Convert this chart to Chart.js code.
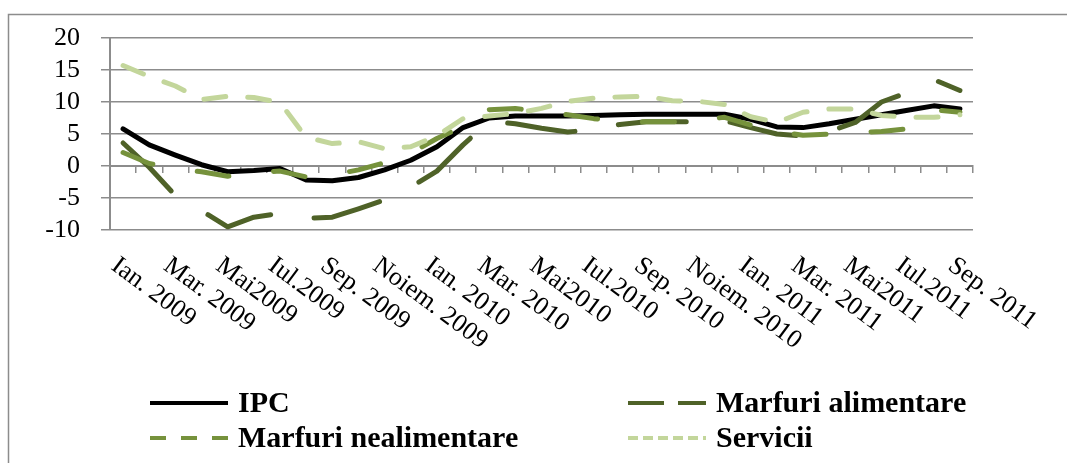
<!DOCTYPE html>
<html>
<head>
<meta charset="utf-8">
<script src="https://cdn.jsdelivr.net/npm/chart.js@4/dist/chart.umd.min.js"></script>
<style>
  html, body { margin: 0; padding: 0; background: #fff; }
</style>
</head>
<body>
<canvas id="myChart" width="1067" height="463"></canvas>
<script>
// categories (only every second one is printed on the axis)
const months = [
  "Ian. 2009", "Feb. 2009", "Mar. 2009", "Apr. 2009", "Mai2009", "Iun. 2009",
  "Iul.2009", "Aug. 2009", "Sep. 2009", "Oct. 2009", "Noiem. 2009", "Dec. 2009",
  "Ian. 2010", "Feb. 2010", "Mar. 2010", "Apr. 2010", "Mai2010", "Iun. 2010",
  "Iul.2010", "Aug. 2010", "Sep. 2010", "Oct. 2010", "Noiem. 2010", "Dec. 2010",
  "Ian. 2011", "Feb. 2011", "Mar. 2011", "Apr. 2011", "Mai2011", "Iun. 2011",
  "Iul.2011", "Aug. 2011", "Sep. 2011"
];
const seriesNames = ["IPC", "Marfuri alimentare", "Marfuri nealimentare", "Servicii"];

const ipc = [5.8, 3.3, 1.7, 0.2, -0.9, -0.7, -0.4, -2.2, -2.3, -1.8, -0.6, 0.9,
  3.0, 6.0, 7.5, 7.8, 7.8, 7.8, 7.9, 8.0, 8.1, 8.1, 8.1, 8.1,
  7.3, 6.1, 6.0, 6.6, 7.3, 8.0, 8.7, 9.4, 8.9];
const alimentare = [3.6, -0.2, -4.6, -7.0, -9.5, -8.0, -7.4, -8.2, -8.0, -6.7, -5.3, -3.3,
  -0.8, 3.3, 7.0, 6.6, 5.9, 5.3, 5.7, 6.5, 6.9, 6.9, 6.9, 7.1,
  6.0, 5.0, 4.7, 5.4, 6.8, 10.0, 11.5, 13.5, 11.8];
const nealimentare = [2.1, 0.4, -0.4, -0.9, -1.6, -1.0, -0.8, -1.7, -1.4, -0.6, 0.5, 2.0,
  4.3, 6.2, 8.8, 9.0, 8.5, 8.0, 7.4, 7.0, 6.9, 6.9, 7.2, 7.6,
  6.4, 5.4, 4.8, 5.0, 5.2, 5.4, 5.8, 8.8, 8.4];
const servicii = [15.7, 14.0, 12.5, 10.4, 10.9, 10.7, 9.9, 4.5, 3.5, 3.8, 2.7, 3.0,
  4.7, 7.4, 7.8, 8.2, 9.0, 10.1, 10.6, 10.8, 10.9, 10.2, 10.1, 9.6,
  7.7, 6.8, 8.4, 8.9, 8.9, 7.9, 7.6, 7.6, 8.0];

const yMin = -10, yMax = 20, yStep = 5;

const colors = ["#000000", "#4F6228", "#76923C", "#C3D69B"];
const dashes = [[], [68, 44], [32, 45], [22, 22]];
const legendDashes = [[], [36, 14], [16, 15], [10, 5]];
const gridColor = "#8c8c8c";
const serif = '"Liberation Serif", "Times New Roman", serif';

// background + outer frame
const framePlugin = {
  id: "frame",
  beforeDraw(chart) {
    const c = chart.ctx;
    c.save();
    c.fillStyle = "#fff";
    c.fillRect(0, 0, chart.width, chart.height);
    c.strokeStyle = "#8c8c8c";
    c.lineWidth = 1.5;
    c.beginPath();
    c.moveTo(8.5, chart.height);
    c.lineTo(8.5, 14.5);
    c.lineTo(chart.width, 14.5);
    c.stroke();
    c.restore();
  }
};

// slanted category labels, reading downwards to the right like the original
const xLabelPlugin = {
  id: "xlabels",
  afterDraw(chart) {
    const c = chart.ctx;
    const xs = chart.scales.x;
    c.save();
    c.font = "26px " + serif;
    c.fillStyle = "#000";
    c.textAlign = "left";
    c.textBaseline = "middle";
    for (let i = 0; i < months.length; i += 2) {
      const x = xs.getPixelForValue(i);
      c.save();
      c.translate(x - 9, 263);
      c.rotate(36.5 * Math.PI / 180);
      c.fillText(months[i], 0, 0);
      c.restore();
    }
    c.restore();
  }
};

// two column legend under the plot
const legendSpots = [[150, 403], [628, 403], [150, 438], [628, 438]];
const legendPlugin = {
  id: "twoColLegend",
  afterDraw(chart) {
    const c = chart.ctx;
    c.save();
    c.font = "bold 30px " + serif;
    c.textBaseline = "middle";
    c.textAlign = "left";
    chart.data.datasets.forEach((ds, i) => {
      const [x, y] = legendSpots[i];
      c.strokeStyle = ds.borderColor;
      c.lineWidth = 4;
      c.lineCap = "butt";
      c.setLineDash(legendDashes[i]);
      c.beginPath();
      c.moveTo(x, y);
      c.lineTo(x + 78, y);
      c.stroke();
      c.setLineDash([]);
      c.fillStyle = "#000";
      c.fillText(ds.label, x + 88, y + 1);
    });
    c.restore();
  }
};

const series = [ipc, alimentare, nealimentare, servicii];
const ctx = document.getElementById("myChart").getContext("2d");
const myChart = new Chart(ctx, {
  type: "line",
  data: {
    labels: months,
    datasets: series.map((vals, i) => ({
      label: seriesNames[i],
      data: vals,
      borderColor: colors[i],
      backgroundColor: colors[i],
      borderWidth: 5,
      borderDash: dashes[i],
      borderCapStyle: "round",
      borderJoinStyle: "round",
      pointRadius: 0,
      tension: 0,
      fill: false,
      order: 4 - i
    }))
  },
  options: {
    responsive: false,
    devicePixelRatio: 1,
    animation: false,
    events: [],
    layout: { padding: { left: 0, right: 94, top: 38, bottom: 233 } },
    plugins: {
      legend: { display: false },
      tooltip: { enabled: false }
    },
    scales: {
      x: {
        offset: true,
        position: { y: 0 },
        afterFit(s) { s.height = 0; },
        ticks: { display: false },
        grid: {
          display: true,
          offset: true,
          drawOnChartArea: false,
          drawTicks: true,
          tickLength: 6,
          color: gridColor,
          lineWidth: 1.5
        },
        border: { display: true, color: gridColor, width: 2 }
      },
      y: {
        min: yMin,
        max: yMax,
        afterFit(s) { s.width = 110; },
        ticks: {
          stepSize: yStep,
          autoSkip: false,
          color: "#000",
          padding: 21,
          font: { family: serif, size: 26 }
        },
        grid: {
          color: gridColor,
          lineWidth: 1.5,
          drawTicks: true,
          tickLength: 9
        },
        border: { display: true, color: gridColor, width: 2 }
      }
    }
  },
  plugins: [framePlugin, xLabelPlugin, legendPlugin]
});
</script>
</body>
</html>
